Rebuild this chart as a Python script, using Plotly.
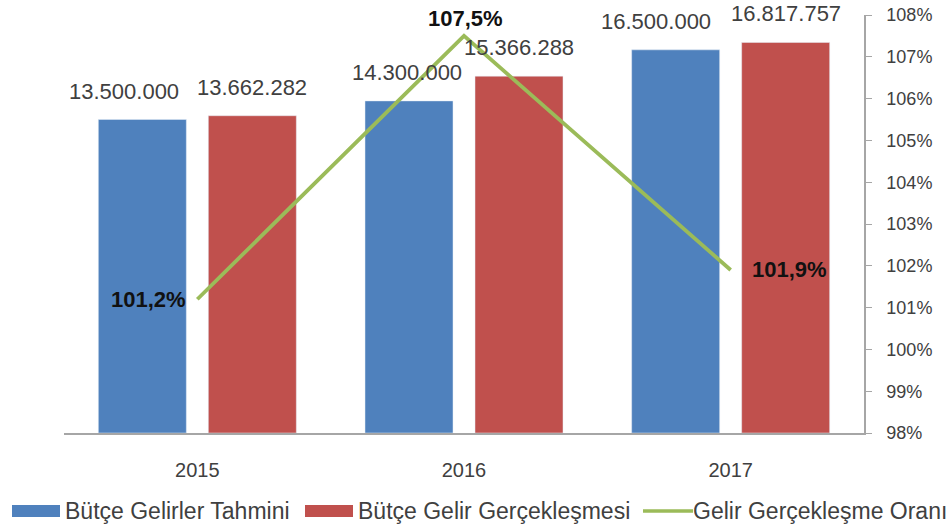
import plotly.graph_objects as go

years = ["2015", "2016", "2017"]
tahmin = [13500000, 14300000, 16500000]
gerceklesme = [13662282, 15366288, 16817757]
oran = [101.2, 107.5, 101.9]
legend_names = ["Bütçe Gelirler Tahmini", "Bütçe Gelir Gerçekleşmesi", "Gelir Gerçekleşme Oranı"]

BLUE = "#4F81BD"
RED = "#C0504D"
GREEN = "#9BBB59"
TXT = "#404040"
FONT = "Liberation Sans"

W, H = 951, 528
L, R, T, B = 64, 87, 15, 95
PW, PH = W - L - R, H - T - B


def px2paper(x, y):
    return (x - L) / PW, (H - B - y) / PH


def fmt_num(v):
    return f"{v:,}".replace(",", ".")


def fmt_pct(v):
    return f"{v:.1f}".replace(".", ",") + "%"


fig = go.Figure()
fig.add_trace(go.Bar(x=years, y=tahmin, name=legend_names[0], marker_color=BLUE,
                     showlegend=False, hoverinfo="skip"))
fig.add_trace(go.Bar(x=years, y=gerceklesme, name=legend_names[1], marker_color=RED,
                     showlegend=False, hoverinfo="skip"))
fig.add_trace(go.Scatter(x=years, y=oran, name=legend_names[2], yaxis="y2",
                         mode="lines", line=dict(color=GREEN, width=3.8),
                         cliponaxis=False, showlegend=False, hoverinfo="skip"))

annotations = []
# bar value labels (blue labels of 2015/2017 sit slightly left, as in the reference)
blue_shift = [-73, -57, -75]
for i, yr in enumerate(years):
    for vals, shift in ((tahmin, blue_shift[i]), (gerceklesme, 55)):
        annotations.append(dict(x=i, y=vals[i], xref="x", yref="y", text=fmt_num(vals[i]),
                                showarrow=False, xshift=shift, yshift=14, yanchor="bottom",
                                font=dict(family=FONT, size=22, color=TXT)))

# line value labels
line_pos = [dict(xanchor="right", yanchor="middle", xshift=-9, yshift=0),
            dict(xanchor="center", yanchor="middle", xshift=1, yshift=17),
            dict(xanchor="left", yanchor="middle", xshift=19, yshift=0)]
for i, v in enumerate(oran):
    annotations.append(dict(x=i, y=v, xref="x", yref="y2", text="<b>" + fmt_pct(v) + "</b>",
                            showarrow=False, font=dict(family=FONT, size=22, color="#111111"),
                            **line_pos[i]))

# custom legend
shapes = []
legend_items = [
    (12, 60, "rect", BLUE, 63, legend_names[0]),
    (305, 353, "rect", RED, 356, legend_names[1]),
    (643, 693, "line", GREEN, 691, legend_names[2]),
]
ly = 511
for x0, x1, kind, col, tx, name in legend_items:
    if kind == "rect":
        a0 = px2paper(x0, ly - 6)
        a1 = px2paper(x1, ly + 6)
        shapes.append(dict(type="rect", xref="paper", yref="paper", x0=a0[0], x1=a1[0],
                           y0=a1[1], y1=a0[1], fillcolor=col, line=dict(width=0)))
    else:
        a0 = px2paper(x0, ly)
        a1 = px2paper(x1, ly)
        shapes.append(dict(type="line", xref="paper", yref="paper", x0=a0[0], x1=a1[0],
                           y0=a0[1], y1=a1[1], line=dict(color=col, width=3.5)))
    tp = px2paper(tx, ly)
    annotations.append(dict(x=tp[0], y=tp[1], xref="paper", yref="paper", text=name,
                            showarrow=False, xanchor="left", yanchor="middle",
                            font=dict(family=FONT, size=23, color=TXT)))

fig.update_layout(
    width=W, height=H,
    margin=dict(l=L, r=R, t=T, b=B, autoexpand=False),
    showlegend=False,
    paper_bgcolor="white", plot_bgcolor="white",
    barmode="group", bargap=0.175, bargroupgap=0.2,
    font=dict(family=FONT, color=TXT),
    xaxis=dict(type="category", range=[-0.5, 2.5], showline=True, linecolor="#A6A6A6",
               linewidth=1.5, ticks="", showgrid=False, automargin=False,
               tickfont=dict(family=FONT, size=20, color=TXT), ticklabelstandoff=18),
    yaxis=dict(range=[0, 18000000], visible=False, showgrid=False, automargin=False),
    yaxis2=dict(overlaying="y", side="right", range=[98, 108], dtick=1, ticksuffix="%",
                showline=True, linecolor="#A6A6A6", linewidth=1.5, ticks="outside",
                ticklen=6, tickcolor="#A6A6A6", showgrid=False, zeroline=False,
                automargin=False,
                tickfont=dict(family=FONT, size=18, color=TXT), ticklabelstandoff=11),
    shapes=shapes,
    annotations=annotations,
)

fig.write_html("out.html", config={"displayModeBar": False},
               post_script="document.body.style.margin='0';document.body.style.overflow='hidden';")
